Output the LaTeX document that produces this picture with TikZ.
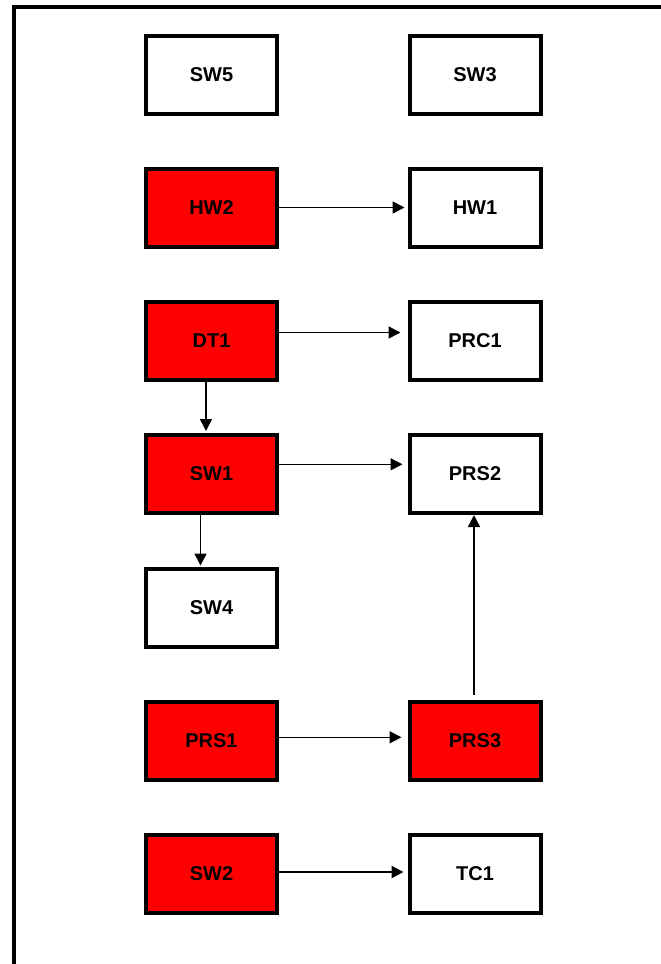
\documentclass[tikz,border=0pt]{standalone}
\usepackage{fontspec}
\setmainfont{Liberation Sans}
\usetikzlibrary{arrows.meta}
\begin{document}
\begin{tikzpicture}[x=1pt,y=-1pt,
  box/.style={draw=black,line width=4pt,minimum width=131pt,minimum height=78pt,inner sep=0pt,
    font=\fontsize{20}{24}\selectfont\bfseries,miter limit=10},
  redbox/.style={box,fill=red},
  whitebox/.style={box,fill=white},
  conn/.style={line width=1.5pt,-{Triangle[length=12pt,width=12pt]}}]
\useasboundingbox (0,0) rectangle (661,964);
\draw[line width=4pt,line join=miter] (13.7,964) -- (13.7,7.3) -- (661,7.3);
% column 1
\node[whitebox] (sw5)  at (211.5,75)  {SW5};
\node[redbox]   (hw2)  at (211.5,207.5) {HW2};
\node[redbox]   (dt1)  at (211.5,341) {DT1};
\node[redbox]   (sw1)  at (211.5,474) {SW1};
\node[whitebox] (sw4)  at (211.5,607.5) {SW4};
\node[redbox]   (prs1) at (211.5,741) {PRS1};
\node[redbox]   (sw2)  at (211.5,874) {SW2};
% column 2
\node[whitebox] (sw3)  at (475,75)  {SW3};
\node[whitebox] (hw1)  at (475,207.5) {HW1};
\node[whitebox] (prc1) at (475,341) {PRC1};
\node[whitebox] (prs2) at (475,474) {PRS2};
\node[redbox]   (prs3) at (475,741) {PRS3};
\node[whitebox] (tc1)  at (475,874) {TC1};
% connectors
\draw[conn,shorten >=3pt] (hw2.east) -- (hw1.west);
\draw[conn,shorten >=7pt] ([yshift=8.5pt]dt1.east) -- ([yshift=8.5pt]prc1.west);
\draw[conn,shorten >=5pt] ([yshift=9.7pt]sw1.east) -- ([yshift=9.7pt]prs2.west);
\draw[conn,shorten >=6pt] ([yshift=3.7pt]prs1.east) -- ([yshift=3.7pt]prs3.west);
\draw[conn,line width=2.5pt,shorten >=4pt] ([yshift=2pt]sw2.east) -- ([yshift=2pt]tc1.west);
\draw[conn,shorten >=2pt] ([xshift=-5.5pt]dt1.south) -- ([xshift=-5.5pt]sw1.north);
\draw[conn,shorten >=1pt] ([xshift=-11pt]sw1.south) -- ([xshift=-11pt]sw4.north);
\draw[conn,shorten <=5pt] ([xshift=-1pt]prs3.north) -- ([xshift=-1pt]prs2.south);
\end{tikzpicture}
\end{document}
